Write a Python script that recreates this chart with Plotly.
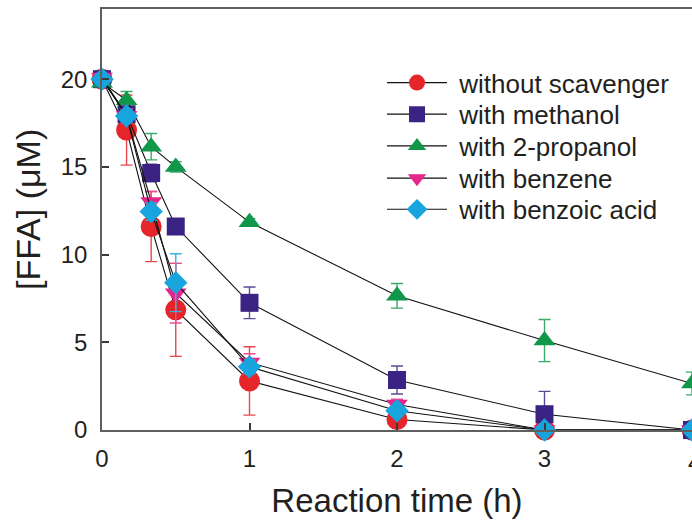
import plotly.graph_objects as go

# Reaction time (h)
time_h = [0, 1/6, 1/3, 0.5, 1, 2, 3, 4]

series_names = ["without scavenger", "with methanol", "with 2-propanol",
                "with benzene", "with benzoic acid"]

ffa_none = [20.0, 17.1, 11.6, 6.85, 2.8, 0.6, 0.0, 0.0]
err_none = [0.2, 2.0, 2.0, 2.65, 1.95, 0.2, 0.1, 0.1]

ffa_methanol = [20.0, 18.0, 14.65, 11.6, 7.25, 2.85, 0.9, 0.0]
err_methanol = [0.2, 0.4, 0.5, 0.4, 0.9, 0.8, 1.3, 0.1]

ffa_propanol = [19.8, 18.8, 16.15, 15.0, 11.85, 7.65, 5.1, 2.65]
err_propanol = [0.2, 0.5, 0.75, 0.3, 0.2, 0.7, 1.2, 0.65]

ffa_benzene = [20.1, 17.9, 13.0, 7.8, 3.85, 1.45, 0.0, 0.0]
err_benzene = [0.2, 0.4, 0.6, 1.7, 0.5, 0.3, 0.1, 0.1]

ffa_benzoic = [20.0, 17.9, 12.45, 8.4, 3.6, 1.1, 0.0, 0.0]
err_benzoic = [0.2, 0.3, 0.5, 1.65, 0.4, 0.3, 0.1, 0.1]

x_ticks = [0, 1, 2, 3]
x_tick_last = 4
y_ticks = [0, 5, 10, 15, 20]

FONT = "Liberation Sans, Arial, sans-serif"
TXT = "#231F20"

styles = [
    dict(symbol="circle", size=21, color="#E4262B", ecolor="#E8474B"),
    dict(symbol="square", size=18, color="#3B2383", ecolor="#5A4A9A"),
    dict(symbol="triangle-up", size=19, color="#10974A", ecolor="#3AAA68"),
    dict(symbol="triangle-down", size=19, color="#E5268A", ecolor="#EA4C9C"),
    dict(symbol="diamond", size=18, color="#18A4DC", ecolor="#3AB2E2"),
]
values = [ffa_none, ffa_methanol, ffa_propanol, ffa_benzene, ffa_benzoic]
errors = [err_none, err_methanol, err_propanol, err_benzene, err_benzoic]
legend_ids = ["legend", "legend2", "legend3", "legend4", "legend5"]
legend_rows_y = [0.825, 0.750, 0.6746, 0.598, 0.524]

fig = go.Figure()
for name, y, e, st, lid in zip(series_names, values, errors, styles, legend_ids):
    fig.add_trace(go.Scatter(
        x=time_h, y=y, name="\u00a0" + name, mode="lines+markers",
        line=dict(color="#111111", width=1.1),
        marker=dict(symbol=st["symbol"], size=st["size"], color=st["color"],
                    line=dict(width=0)),
        error_y=dict(type="data", array=e, visible=True, color=st["ecolor"],
                     thickness=1.4, width=6),
        cliponaxis=False,
        legend=lid,
    ))

legend_layout = {}
for lid, ly in zip(legend_ids, legend_rows_y):
    legend_layout[lid] = dict(
        x=0.4746, y=ly, xanchor="left", yanchor="middle",
        bgcolor="rgba(0,0,0,0)",
        font=dict(family=FONT, size=26, color=TXT),
        itemwidth=60,
    )

fig.update_layout(
    width=692, height=524,
    margin=dict(l=102, r=0, t=9, b=94),
    paper_bgcolor="white", plot_bgcolor="white",
    font=dict(family=FONT, color=TXT),
    showlegend=True,
    **legend_layout,
    xaxis=dict(
        range=[0, 4], tickvals=x_ticks, ticktext=[str(v) for v in x_ticks],
        showgrid=False, zeroline=False,
        showline=True, linecolor="#5F5F5F", linewidth=1.6, mirror=True,
        ticks="inside", ticklen=7, tickwidth=1.6, tickcolor="#3A3A3A",
        tickfont=dict(family=FONT, size=24, color=TXT),
        ticklabelstandoff=6,
        title=dict(text="Reaction time (h)", font=dict(family=FONT, size=33, color=TXT),
                   standoff=18),
        automargin=False,
    ),
    yaxis=dict(
        range=[0, 24], tickvals=y_ticks, ticktext=[str(v) for v in y_ticks],
        showgrid=False, zeroline=False,
        showline=True, linecolor="#5F5F5F", linewidth=1.6, mirror=False,
        ticks="inside", ticklen=7, tickwidth=1.6, tickcolor="#3A3A3A",
        tickfont=dict(family=FONT, size=24, color=TXT),
        ticklabelstandoff=8,
        automargin=False,
    ),
)

plot_w = 692 - 102
plot_h = 524 - 9 - 94
fig.update_layout(annotations=[
    dict(text=str(x_tick_last), x=x_tick_last, y=0, xref="x", yref="y",
         xanchor="center", yanchor="top", yshift=-17, xshift=2, showarrow=False,
         font=dict(family=FONT, size=24, color=TXT)),
    dict(text="[FFA] (\u03bcM)", x=(28 - 102) / plot_w, y=(430 - 210) / plot_h,
         xref="paper", yref="paper", xanchor="center", yanchor="middle",
         showarrow=False, textangle=-90,
         font=dict(family=FONT, size=34, color=TXT)),
])

fig.write_html("out.html")
